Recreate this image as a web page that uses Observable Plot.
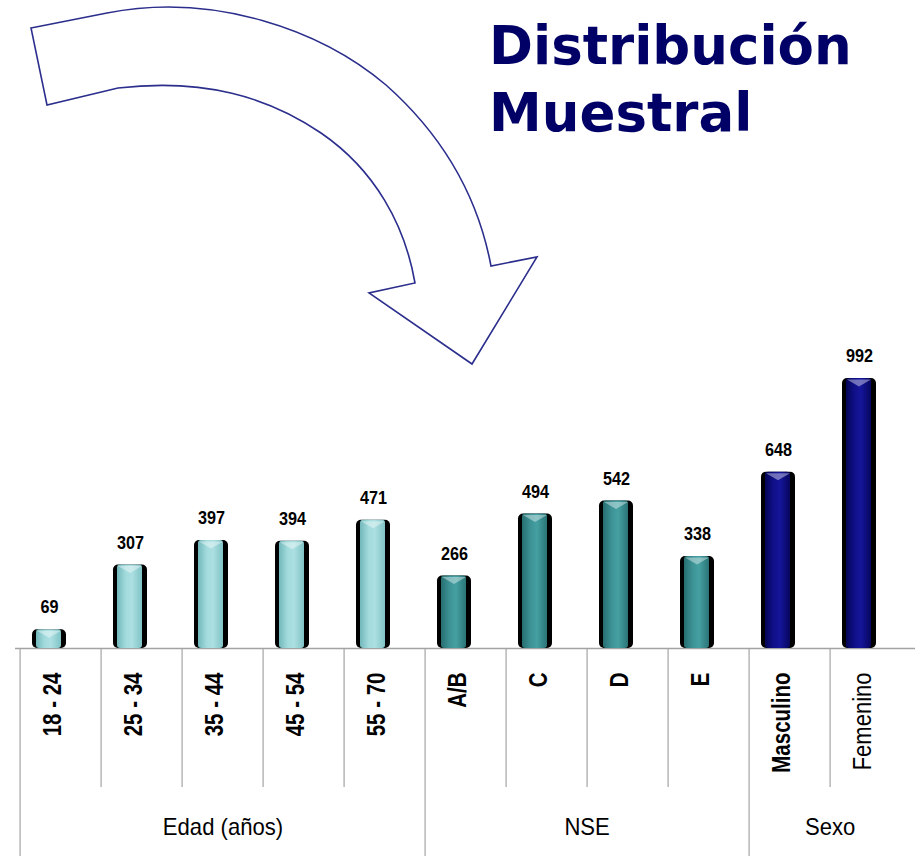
<!DOCTYPE html>
<html>
<head>
<meta charset="utf-8">
<script src="https://cdn.jsdelivr.net/npm/d3@7"></script>
<script src="https://cdn.jsdelivr.net/npm/@observablehq/plot@0.6"></script>
<style>
  html, body { margin: 0; padding: 0; background: #fff; }
  #wrap { position: relative; width: 915px; height: 856px; overflow: hidden; background: #fff; }
  #chart { position: absolute; left: 0; top: 0; }
  #chart svg { overflow: hidden; }
  #arrow { position: absolute; left: 0; top: 0; pointer-events: none; }
  #title {
    position: absolute; left: 489px; top: 12px;
    font-family: "DejaVu Sans", Verdana, sans-serif; font-weight: bold;
    font-size: 53px; line-height: 67px; color: #000066; letter-spacing: 0px;
    white-space: nowrap;
  }
</style>
</head>
<body>
<div id="wrap">
  <div id="chart"></div>
  <svg id="arrow" width="915" height="400" viewBox="0 0 915 400">
    <path d="M31 28 L107 13 C214 -8 321 30 386 85 C439 132 477 192 491 266 L537 257 L472 364 L369 293 L415 283 C405 225 375 170 321 133 C268 97 204 78 118 88 L47 105 Z"
          fill="none" stroke="#2b2e8c" stroke-width="1.6" stroke-linejoin="miter"/>
  </svg>
  <div id="title">Distribución<br>Muestral</div>
</div>
<script>
// ---- data ----
const categories = ["18 - 24", "25 - 34", "35 - 44", "45 - 54", "55 - 70", "A/B", "C", "D", "E", "Masculino", "Femenino"];
const values = [69, 307, 397, 394, 471, 266, 494, 542, 338, 648, 992];
const groupOf = ["Edad (años)", "Edad (años)", "Edad (años)", "Edad (años)", "Edad (años)", "NSE", "NSE", "NSE", "NSE", "Sexo", "Sexo"];
const groups = ["Edad (años)", "NSE", "Sexo"];
const boldLabel = [true, true, true, true, true, true, true, true, true, true, false];

const data = categories.map((c, i) => ({cat: c, value: values[i], group: groupOf[i], bold: boldLabel[i]}));

// ---- layout ----
const W = 915, H = 856, mL = 15, mR = 0, mT = 378, mB = 208;
const bw = (W - mL - mR) / categories.length;
const font = '"Liberation Sans", Arial, sans-serif';

const groupStarts = groups.map(g => categories[groupOf.indexOf(g)]);
const innerBounds = categories.filter((c, i) => i > 0 && groupOf[i] === groupOf[i - 1]);
const groupLabelsOdd = [], groupLabelsEven = [];
groups.forEach(g => {
  const cats = categories.filter((c, i) => groupOf[i] === g);
  const n = cats.length;
  if (n % 2) groupLabelsOdd.push({cat: cats[(n - 1) / 2], label: g});
  else groupLabelsEven.push({cat: cats[n / 2], label: g});
});

// flat bevel "triangle" symbol for the top of bars
const bevel = {
  draw(ctx, size) {
    ctx.moveTo(-12, 0);
    ctx.lineTo(12, 0);
    ctx.lineTo(0, 7);
    ctx.closePath();
  }
};

const chart = Plot.plot({
  width: W, height: H,
  marginLeft: mL, marginRight: mR, marginTop: mT, marginBottom: mB,
  x: {domain: categories, padding: 0, axis: null},
  y: {domain: [0, d3.max(values)], axis: null},
  color: {domain: groups, range: ["url(#gEdad)", "url(#gNSE)", "url(#gSexo)"]},
  style: {background: "transparent"},
  marks: [
    Plot.ruleX(innerBounds, {x: d => d, dx: -bw / 2, dy: H - mT - mB, insetBottom: 131, stroke: "#a3a3a3", strokeWidth: 1.2}),
    Plot.ruleX(groupStarts, {x: d => d, dx: -bw / 2, dy: H - mT - mB, insetBottom: 62, stroke: "#a3a3a3", strokeWidth: 1.2}),
    Plot.ruleY([0], {stroke: "#a3a3a3", strokeWidth: 1.5}),
    Plot.barY(data, {x: "cat", y: "value", fill: "black", insetLeft: 12, insetRight: 35, rx: 5}),
    Plot.barY(data, {x: "cat", y: "value", fill: "group", insetLeft: 16, insetRight: 40, rx: 3}),
    Plot.dot(data, {x: "cat", y: "value", symbol: bevel, r: 5, fill: "white", fillOpacity: 0.4, stroke: null, dx: -12, dy: 1}),
    Plot.text(data, {x: "cat", y: "value", text: d => String(d.value), dx: -11.5, dy: -22,
      fontSize: 18, fontWeight: "bold", fontFamily: font, fill: "black"}),
    Plot.text(data.filter(d => d.bold), {x: "cat", text: "cat", frameAnchor: "bottom", rotate: -90, textAnchor: "end", dy: 24,
      fontSize: 25, fontWeight: "bold", fontFamily: font, fill: "black"}),
    Plot.text(data.filter(d => !d.bold), {x: "cat", text: "cat", frameAnchor: "bottom", rotate: -90, textAnchor: "end", dy: 24,
      fontSize: 25, fontWeight: "normal", fontFamily: font, fill: "black"}),
    Plot.text(groupLabelsOdd, {x: "cat", text: "label", frameAnchor: "bottom", dy: 186,
      fontSize: 24, fontFamily: font, fill: "black"}),
    Plot.text(groupLabelsEven, {x: "cat", text: "label", frameAnchor: "bottom", dx: -bw / 2, dy: 186,
      fontSize: 24, fontFamily: font, fill: "black"})
  ]
});

// gradient definitions for the cylinder-like bars
const ns = "http://www.w3.org/2000/svg";
const defs = document.createElementNS(ns, "defs");
const grads = {
  gEdad: ["#72b8bb", "#a3dbdd", "#acdfe1", "#80c3c6"],
  gNSE: ["#276e70", "#3d9396", "#45a0a2", "#2b7476"],
  gSexo: ["#040456", "#10108a", "#15159a", "#06065e"]
};
for (const [id, cols] of Object.entries(grads)) {
  const lg = document.createElementNS(ns, "linearGradient");
  lg.setAttribute("id", id);
  lg.setAttribute("x1", "0"); lg.setAttribute("x2", "1"); lg.setAttribute("y1", "0"); lg.setAttribute("y2", "0");
  [0, 0.35, 0.6, 1].forEach((o, k) => {
    const s = document.createElementNS(ns, "stop");
    s.setAttribute("offset", o);
    s.setAttribute("stop-color", cols[k]);
    lg.appendChild(s);
  });
  defs.appendChild(lg);
}
chart.insertBefore(defs, chart.firstChild);
document.getElementById("chart").appendChild(chart);

// condense text horizontally (Arial Narrow look) using textLength, in mark render order
const textGroups = Array.from(chart.querySelectorAll("g")).filter(g =>
  Array.from(g.children).some(c => c.tagName.toLowerCase() === "text"));
const condense = [0.9, 0.82, 0.88, 0.92, 0.92];
textGroups.forEach((g, k) => {
  const s = condense[k] ?? 1;
  g.querySelectorAll("text").forEach(t => {
    const len = t.getComputedTextLength();
    if (len > 0) {
      t.setAttribute("textLength", (len * s).toFixed(2));
      t.setAttribute("lengthAdjust", "spacingAndGlyphs");
    }
  });
});
</script>
</body>
</html>
